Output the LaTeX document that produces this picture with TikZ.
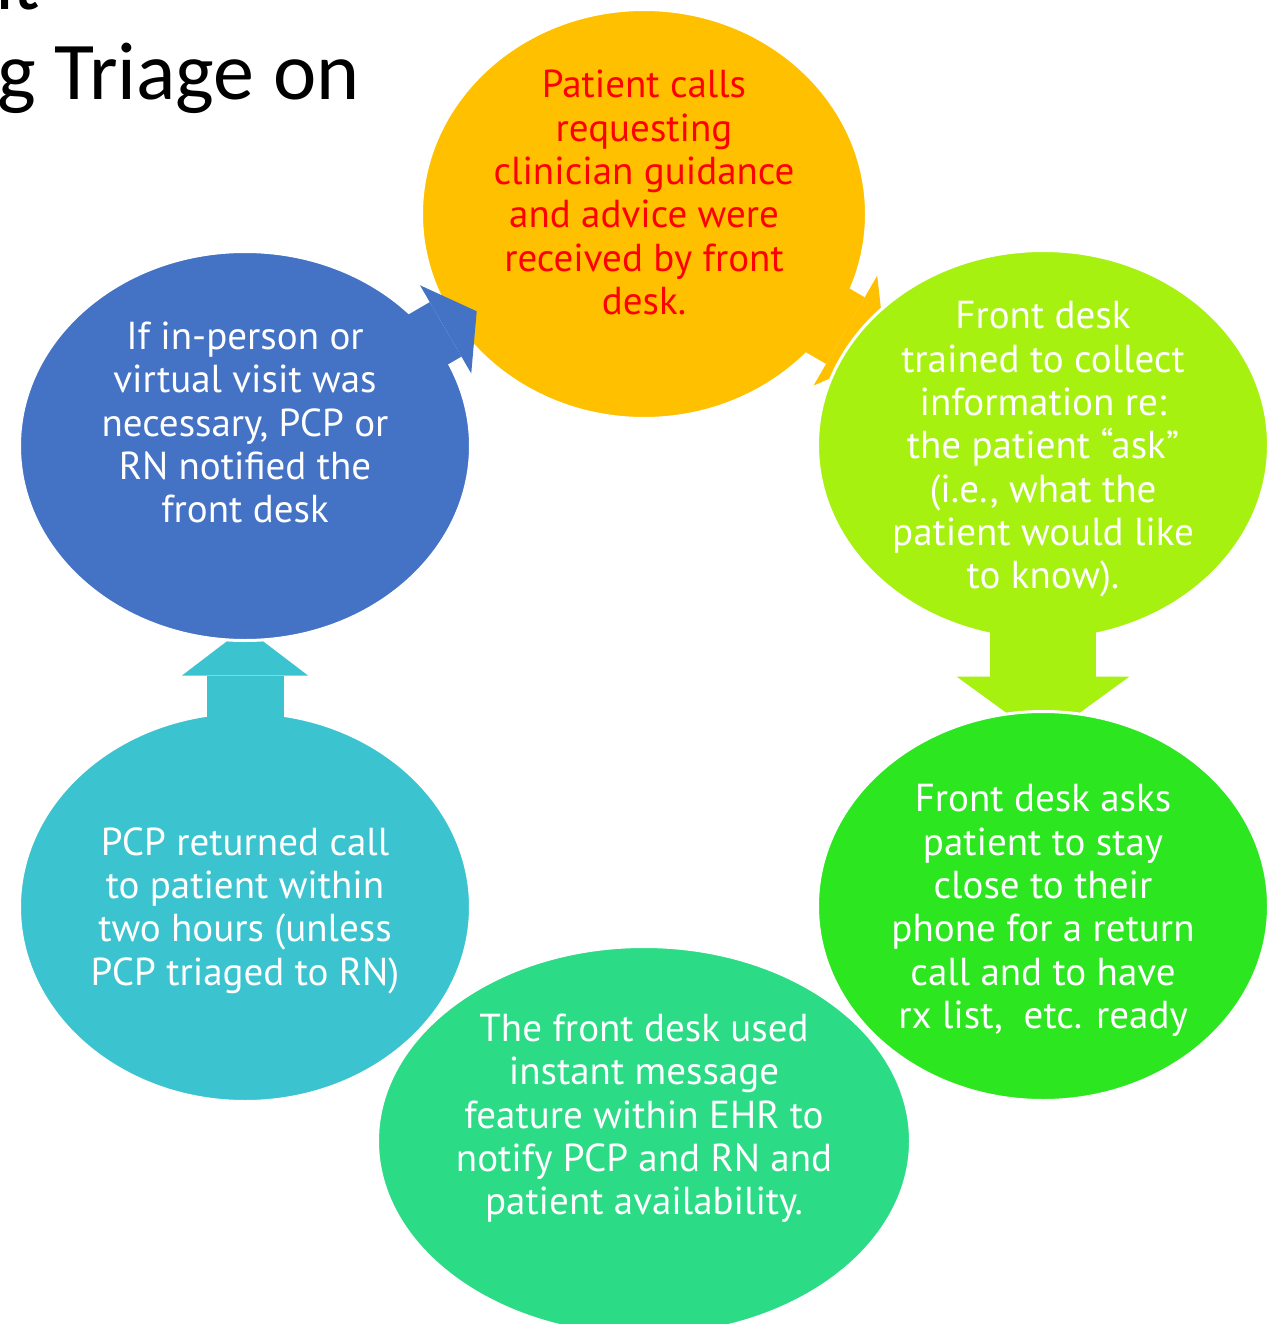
\documentclass[tikz,border=0pt]{standalone}
\usepackage{fontspec}
\setmainfont{PT Sans}
\newfontfamily\slidefont{Carlito}
\usetikzlibrary{arrows.meta,shapes.geometric}
\definecolor{callgold}{HTML}{FFC000}
\definecolor{askgreen}{HTML}{A6F110}
\definecolor{staygreen}{HTML}{2CE620}
\definecolor{msggreen}{HTML}{2BDB85}
\definecolor{replycyan}{HTML}{3BC4CF}
\definecolor{visitblue}{HTML}{4472C4}
\pgfdeclarelayer{back}
\pgfdeclarelayer{mid}
\pgfdeclarelayer{front}
\pgfsetlayers{back,mid,main,front}

\begin{document}
\begin{tikzpicture}[x=1pt,y=-1pt,
    bubble/.style={ellipse,draw=white,line width=3pt,inner sep=0pt,outer sep=0pt,
      minimum width=451pt,minimum height=389pt},
    note/.style={align=center,text=white,font=\fontsize{39}{43.3}\selectfont},
    headline/.style={anchor=base west,inner sep=0pt,font=\slidefont\fontsize{82}{96}\selectfont},
    flow/.style n args={4}{draw=#1,line width=#2,
      -{Triangle[length=#3,width=#4,line width=0pt]}}]
    \useasboundingbox (0,0) rectangle (1268,1324);
    \node[headline] (head-top) at (-30,10) {nt};
    \node[headline] (head) at (-3,100) {g Triage on};
    % the six steps
    \begin{pgfonlayer}{back}
      \node[bubble,fill=callgold,minimum width=445pt,minimum height=409pt] (call) at (644,214) {};
      \node[bubble,fill=replycyan] (reply) at (245,907) {};
    \end{pgfonlayer}
    \node[bubble,fill=askgreen] (ask) at (1043,445) {};
    \node[bubble,fill=visitblue] (visit) at (245,446) {};
    \begin{pgfonlayer}{front}
      \node[bubble,fill=staygreen] (stay) at (1043,906) {};
      \node[bubble,fill=msggreen,minimum width=533pt] (message) at (644,1141) {};
    \end{pgfonlayer}
    % block arrows
    \begin{pgfonlayer}{mid}
      \draw[flow={callgold}{77pt}{47pt}{127pt},shorten <=-45pt,shorten >=-35pt] (call) -- (ask);
      \draw[flow={replycyan}{77pt}{48pt}{126pt},shorten <=-40pt,shorten >=-13pt] (reply) -- (visit);
    \end{pgfonlayer}
    \draw[flow={askgreen}{106pt}{63pt}{173pt},shorten <=-40pt,shorten >=-28pt] (ask) -- (stay);
    \draw[flow={visitblue}{63pt}{36pt}{102pt},shorten <=-45pt,shorten >=-24pt] (visit) -- (call);
    % texts
    \begin{pgfonlayer}{front}
      \node[note,text=red] (call-text) at (644,192.5)
        {Patient calls\\requesting\\clinician guidance\\and advice were\\received by front\\desk.};
      \node[note] (ask-text) at (1043,449.5)
        {Front desk\\trained to collect\\information re:\\the patient “ask”\\(i.e., what the\\patient would like\\to know).};
      \node[note] (stay-text) at (1043,910.5)
        {Front desk asks\\patient to stay\\close to their\\phone for a return\\call and to have\\rx list, \ etc. ready};
      \node[note] (message-text) at (644,1118.5)
        {The front desk used\\instant message\\feature within EHR to\\notify PCP and RN and\\patient availability.};
      \node[note] (reply-text) at (245,910.5)
        {PCP returned call\\to patient within\\two hours (unless\\PCP triaged to RN)};
      \node[note] (visit-text) at (245,422.5)
        {If in-person or\\virtual visit was\\necessary, PCP or\\RN notified the\\front desk};
    \end{pgfonlayer}
\end{tikzpicture}
\end{document}
